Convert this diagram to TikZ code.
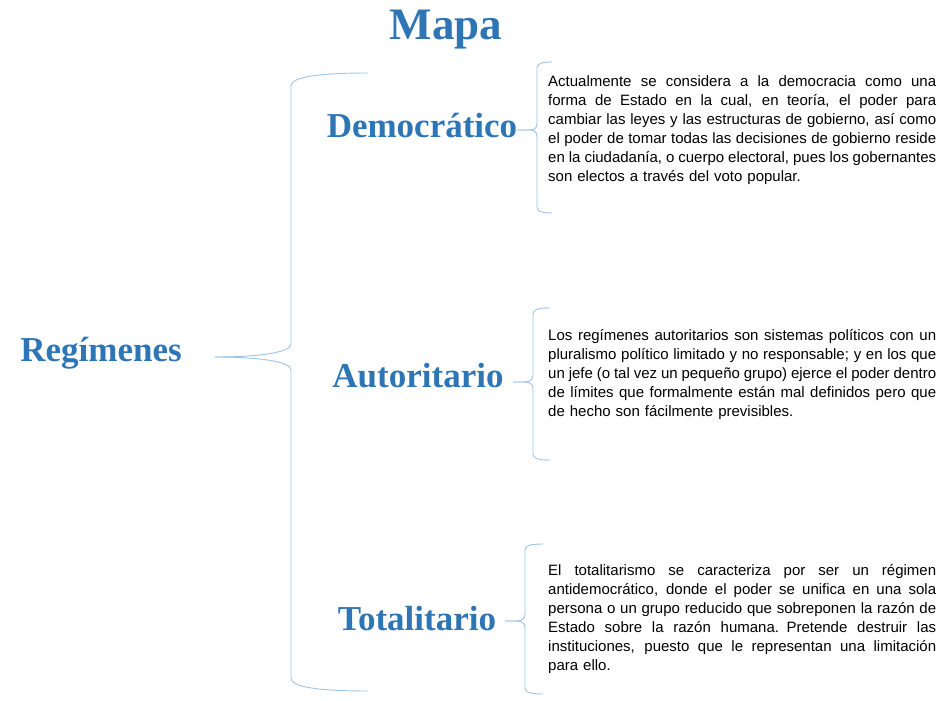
\documentclass[tikz,border=0pt]{standalone}
\usepackage{fontspec}
\setmainfont{Liberation Serif}
\setsansfont{Liberation Sans}
\definecolor{mapblue}{RGB}{46,117,182}
\definecolor{braceblue}{RGB}{157,195,230}
% one justified line of a description
\newcommand{\jline}[1]{\makebox[388pt][s]{\spaceskip=0.278em plus 0.6em minus 0.08em\relax #1}}
\begin{document}
\begin{tikzpicture}[x=1pt, y=-1pt,
    heading/.style={font=\rmfamily\bfseries\fontsize{35}{40}\selectfont, text=mapblue, inner sep=0pt, anchor=base},
    desc/.style={font=\sffamily\fontsize{15}{19}\selectfont, text width=388pt, align=left, anchor=base west, inner sep=0pt},
    brace/.style={draw=braceblue, line width=0.9pt}
]
    \useasboundingbox (0,0) rectangle (940,701);

    % Title and root
    \node[heading, font=\rmfamily\bfseries\fontsize{45}{50}\selectfont] (title) at (446,40) {Mapa};
    \node[heading] (regimenes) at (101,361) {Regímenes};

    % Types of regime
    \node[heading] (democratico) at (422,137) {Democrático};
    \node[heading] (autoritario) at (418,387) {Autoritario};
    \node[heading] (totalitario) at (417,630) {Totalitario};

    % Descriptions
    \node[desc] (democratico_text) at (548,87) {\jline{Actualmente se considera a la democracia como una}\\
        \jline{forma de Estado en la cual, en teoría, el poder para}\\
        \jline{cambiar las leyes y las estructuras de gobierno, así como}\\
        \jline{el poder de tomar todas las decisiones de gobierno reside}\\
        \jline{en la ciudadanía, o cuerpo electoral, pues los gobernantes}\\
        son electos a través del voto popular.};
    \node[desc] (autoritario_text) at (548,340) {\jline{Los regímenes autoritarios son sistemas políticos con un}\\
        \jline{pluralismo político limitado y no responsable; y en los que}\\
        \jline{un jefe (o tal vez un pequeño grupo) ejerce el poder dentro}\\
        \jline{de límites que formalmente están mal definidos pero que}\\
        de hecho son fácilmente previsibles.};
    \node[desc] (totalitario_text) at (548,575) {\jline{El totalitarismo se caracteriza por ser un régimen}\\
        \jline{antidemocrático, donde el poder se unifica en una sola}\\
        \jline{persona o un grupo reducido que sobreponen la razón de}\\
        \jline{Estado sobre la razón humana. Pretende destruir las}\\
        \jline{instituciones, puesto que le representan una limitación}\\
        para ello.};

    % Brace end points
    \coordinate (big_tip) at (215,357);
    \coordinate (big_top) at (368,73);
    \coordinate (big_bottom) at (368,691);
    \coordinate (democratico_top) at (552,62);
    \coordinate (democratico_bottom) at (552,213);
    \coordinate (autoritario_tip) at (513,382);
    \coordinate (autoritario_top) at (550,308);
    \coordinate (autoritario_bottom) at (550,460);
    \coordinate (totalitario_tip) at (505,621);
    \coordinate (totalitario_top) at (543,544);
    \coordinate (totalitario_bottom) at (543,694);

    % Big brace
    \draw[brace] (big_tip) .. controls (262,357) and (291,352) .. (291,344) -- (291,86) .. controls (291,77) and (318,73) .. (big_top);
    \draw[brace] (big_tip) .. controls (262,357) and (291,362) .. (291,370) -- (291,678) .. controls (291,687) and (318,691) .. (big_bottom);

    % Small braces
    \draw[brace] (democratico.east |- 0,130) -- (529,130) .. controls (535,130) and (537,128) .. (537,123) -- (537,68) .. controls (537,64) and (541,62) .. (democratico_top);
    \draw[brace] (democratico.east |- 0,130) -- (529,130) .. controls (535,130) and (537,132) .. (537,137) -- (537,207) .. controls (537,211) and (541,213) .. (democratico_bottom);
    \draw[brace] (autoritario_tip) -- (524,382) .. controls (530,382) and (533,380) .. (533,375) -- (533,314) .. controls (533,310) and (537,308) .. (autoritario_top);
    \draw[brace] (autoritario_tip) -- (524,382) .. controls (530,382) and (533,384) .. (533,389) -- (533,454) .. controls (533,458) and (537,460) .. (autoritario_bottom);
    \draw[brace] (totalitario_tip) -- (516,621) .. controls (522,621) and (525,619) .. (525,614) -- (525,550) .. controls (525,546) and (529,544) .. (totalitario_top);
    \draw[brace] (totalitario_tip) -- (516,621) .. controls (522,621) and (525,623) .. (525,628) -- (525,688) .. controls (525,692) and (529,694) .. (totalitario_bottom);
\end{tikzpicture}
\end{document}
